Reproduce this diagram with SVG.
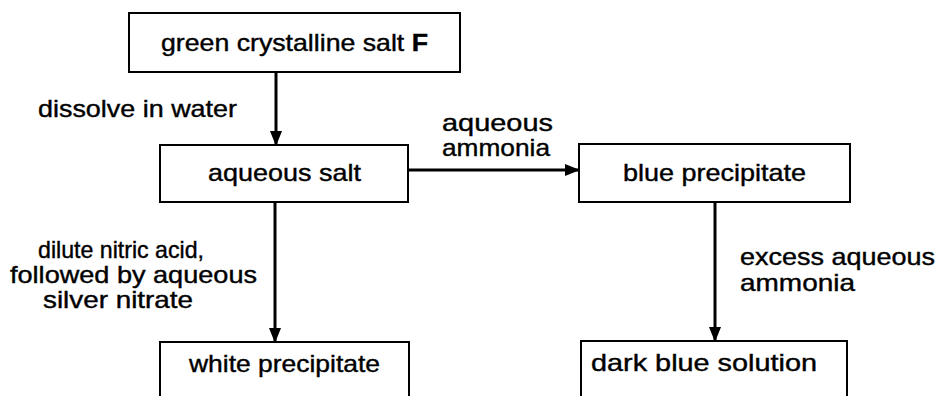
<svg xmlns="http://www.w3.org/2000/svg" width="944" height="396" viewBox="0 0 944 396">
<defs>
<style>
.box{fill:#fff;stroke:#000;stroke-width:2}
.ln{stroke:#000;stroke-width:3;fill:none}
text{font-family:"Liberation Sans",Arial,sans-serif;font-size:24px;fill:#000;stroke:#000;stroke-width:0.4}
</style>
<marker id="ah" markerWidth="15" markerHeight="12" refX="14" refY="6" orient="auto" markerUnits="userSpaceOnUse">
<path d="M0,0 L15,6 L0,12 Z" fill="#000"/>
</marker>
</defs>
<rect width="944" height="396" fill="#fff"/>
<g id="connectors">
<line class="ln" x1="276" y1="72" x2="276" y2="145" marker-end="url(#ah)"/>
<line class="ln" x1="408" y1="170" x2="579" y2="170" marker-end="url(#ah)"/>
<line class="ln" x1="275" y1="202" x2="275" y2="342" marker-end="url(#ah)"/>
<line class="ln" x1="715" y1="202" x2="715" y2="341" marker-end="url(#ah)"/>
<text x="38" y="117" textLength="199" lengthAdjust="spacingAndGlyphs">dissolve in water</text>
<text x="442" y="131" textLength="111" lengthAdjust="spacingAndGlyphs">aqueous</text>
<text x="442" y="156" textLength="108" lengthAdjust="spacingAndGlyphs">ammonia</text>
<text x="38" y="258" textLength="166" lengthAdjust="spacingAndGlyphs">dilute nitric acid,</text>
<text x="10" y="283" textLength="247" lengthAdjust="spacingAndGlyphs">followed by aqueous</text>
<text x="43" y="308" textLength="150" lengthAdjust="spacingAndGlyphs">silver nitrate</text>
<text x="740" y="265" textLength="195" lengthAdjust="spacingAndGlyphs">excess aqueous</text>
<text x="740" y="291" textLength="115" lengthAdjust="spacingAndGlyphs">ammonia</text>
</g>
<g id="salt-f">
<rect class="box" x="129" y="13" width="331" height="59"/>
<text x="161" y="51" textLength="267" lengthAdjust="spacingAndGlyphs">green crystalline salt <tspan font-weight="bold">F</tspan></text>
</g>
<g id="aqueous-salt">
<rect class="box" x="160" y="145" width="248" height="57"/>
<text x="208" y="181" textLength="153" lengthAdjust="spacingAndGlyphs">aqueous salt</text>
</g>
<g id="blue-precipitate">
<rect class="box" x="579" y="144" width="271" height="58"/>
<text x="623" y="181" textLength="183" lengthAdjust="spacingAndGlyphs">blue precipitate</text>
</g>
<g id="white-precipitate">
<rect class="box" x="160" y="342" width="249" height="70"/>
<text x="189" y="372" textLength="191" lengthAdjust="spacingAndGlyphs">white precipitate</text>
</g>
<g id="dark-blue-solution">
<rect class="box" x="581" y="341" width="266" height="70"/>
<text x="591" y="371" textLength="226" lengthAdjust="spacingAndGlyphs">dark blue solution</text>
</g>
</svg>
